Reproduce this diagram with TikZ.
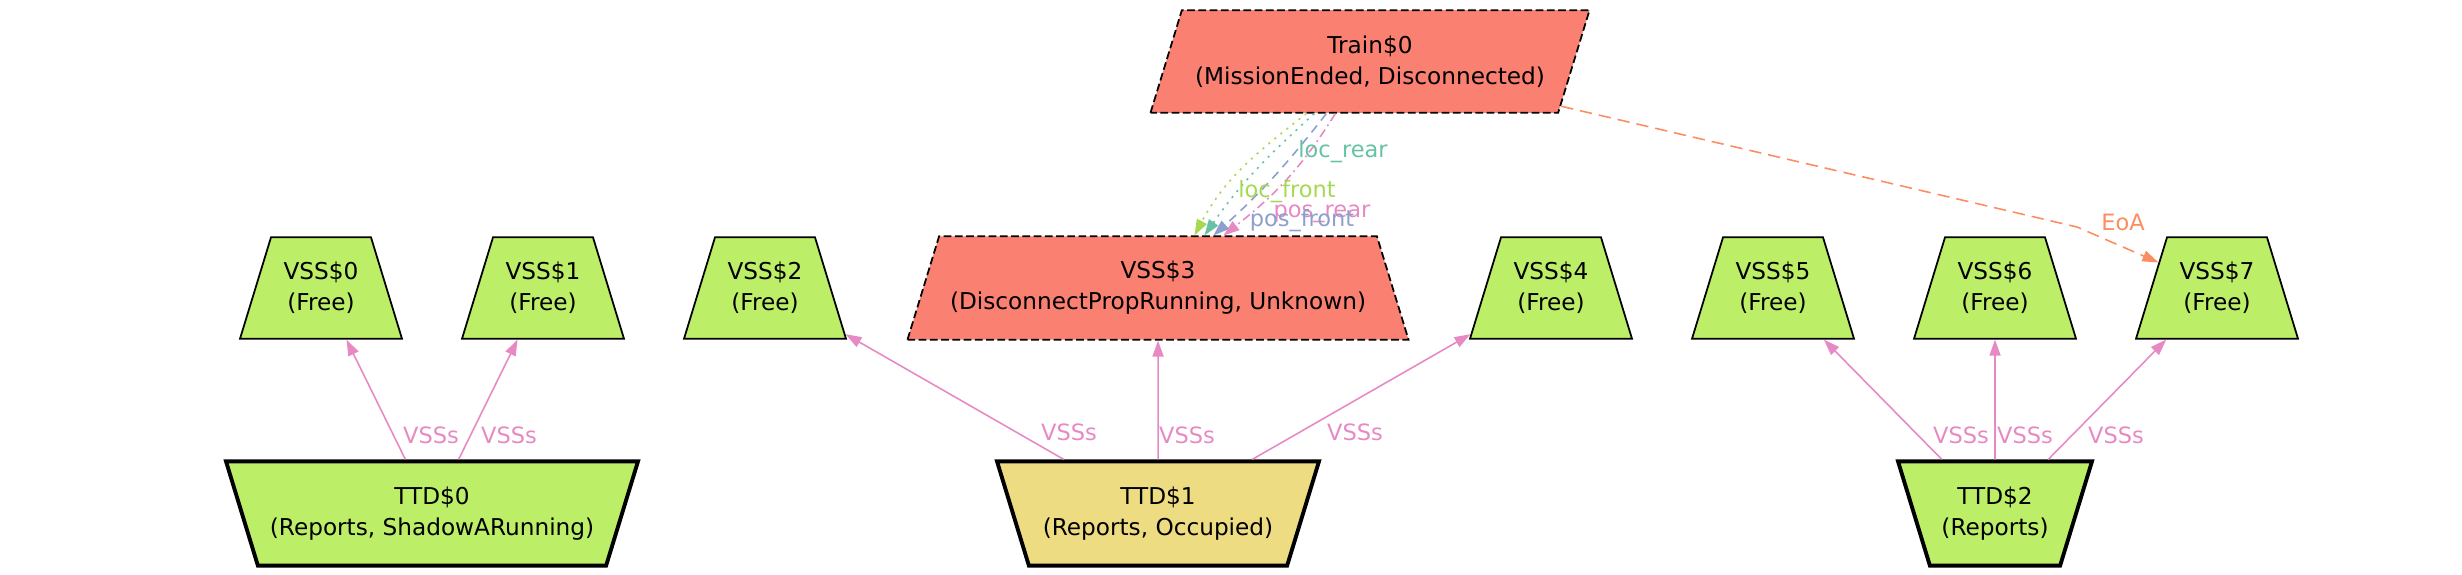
\documentclass[tikz,border=0pt]{standalone}
\usepackage{fontspec}
\setmainfont{DejaVu Sans}
\definecolor{stgreen}{RGB}{188,238,104}
\definecolor{stgold}{RGB}{238,220,130}
\definecolor{stsalmon}{RGB}{250,128,114}
\definecolor{edpink}{RGB}{231,138,195}
\definecolor{edteal}{RGB}{102,194,165}
\definecolor{edlime}{RGB}{166,216,84}
\definecolor{edblue}{RGB}{141,160,203}
\definecolor{edorange}{RGB}{252,141,98}
\usetikzlibrary{arrows.meta,positioning,shapes.geometric}
\tikzset{
  statebox/.style={trapezium, trapezium stretches body, trapezium left angle=73, trapezium right angle=73,
    draw, align=center, inner xsep=1pt, inner ysep=7.1pt, font=\fontsize{6.6}{8.8}\selectfont},
  vssbox/.style={statebox, line width=0.5pt, minimum width=1.62cm, fill=stgreen},
  ttdbox/.style={statebox, shape border rotate=180, line width=1.1pt, inner ysep=7.25pt},
  lost/.style={dash pattern=on 2.2pt off 1pt, fill=stsalmon},
  linkedge/.style={line width=0.45pt, -{Triangle[length=0.16cm,width=0.11cm]}},
  vssedge/.style={linkedge, edpink},
  edgelbl/.style={font=\fontsize{6.4}{7.5}\selectfont, inner sep=0pt},
}
\begin{document}
\begin{tikzpicture}
  \useasboundingbox (0,0) rectangle (24.62,5.75);
  % train on top
  \node[statebox, lost, trapezium right angle=107, minimum width=4.39cm, inner ysep=7.25pt, line width=0.5pt] (train0) at (13.70,5.135) {Train\$0\\(MissionEnded, Disconnected)};
  % VSS row
  \node[vssbox] (vss0) at (3.21,2.87) {VSS\$0\\(Free)};
  \node[vssbox] (vss1) at (5.43,2.87) {VSS\$1\\(Free)};
  \node[vssbox] (vss2) at (7.65,2.87) {VSS\$2\\(Free)};
  \node[vssbox, lost, minimum width=5.01cm] (vss3) at (11.58,2.87) {VSS\$3\\(DisconnectPropRunning, Unknown)};
  \node[vssbox] (vss4) at (15.51,2.87) {VSS\$4\\(Free)};
  \node[vssbox] (vss5) at (17.73,2.87) {VSS\$5\\(Free)};
  \node[vssbox] (vss6) at (19.95,2.87) {VSS\$6\\(Free)};
  \node[vssbox] (vss7) at (22.17,2.87) {VSS\$7\\(Free)};
  % TTD row
  \node[ttdbox, fill=stgreen, minimum width=4.12cm] (ttd0) at (4.32,0.615) {TTD\$0\\(Reports, ShadowARunning)};
  \node[ttdbox, fill=stgold, minimum width=3.22cm] (ttd1) at (11.58,0.615) {TTD\$1\\(Reports, Occupied)};
  \node[ttdbox, fill=stgreen, minimum width=1.94cm] (ttd2) at (19.95,0.615) {TTD\$2\\(Reports)};
  % TTD -> VSS
  \draw[vssedge] (ttd0) -- (vss0) node[edgelbl] at (4.31,1.40) {VSSs};
  \draw[vssedge] (ttd0) -- (vss1) node[edgelbl] at (5.09,1.40) {VSSs};
  \draw[vssedge] (ttd1) -- (vss2) node[edgelbl] at (10.69,1.43) {VSSs};
  \draw[vssedge] (ttd1) -- (vss3) node[edgelbl] at (11.87,1.40) {VSSs};
  \draw[vssedge] (ttd1) -- (vss4) node[edgelbl] at (13.55,1.43) {VSSs};
  \draw[vssedge] (ttd2) -- (vss5) node[edgelbl] at (19.61,1.40) {VSSs};
  \draw[vssedge] (ttd2) -- (vss6) node[edgelbl] at (20.25,1.40) {VSSs};
  \draw[vssedge] (ttd2) -- (vss7) node[edgelbl] at (21.16,1.40) {VSSs};
  % train -> VSS$3
  \draw[linkedge, edlime, dash pattern=on 0.6pt off 1.6pt] ([xshift=1.57cm]train0.bottom left corner) to[out=218,in=62] ([xshift=2.56cm]vss3.top left corner);
  \draw[linkedge, edteal, dash pattern=on 0.6pt off 1.6pt] ([xshift=1.65cm]train0.bottom left corner) to[out=222,in=55] ([xshift=2.66cm]vss3.top left corner);
  \draw[linkedge, edpink, dash pattern=on 2.5pt off 1.2pt on 0.5pt off 1.2pt] ([xshift=1.86cm]train0.bottom left corner) to[out=238,in=38] ([xshift=2.85cm]vss3.top left corner);
  \draw[linkedge, edblue, dash pattern=on 2.5pt off 1.8pt] ([xshift=1.77cm]train0.bottom left corner) to[out=232,in=42] ([xshift=2.75cm]vss3.top left corner);
  \node[edgelbl, text=edteal] (locrear) at (13.43,4.23) {loc\_rear};
  \node[edgelbl, text=edlime] (locfront) at (12.87,3.83) {loc\_front};
  \node[edgelbl, text=edpink] (posrear) at (13.22,3.61) {pos\_rear};
  \node[edgelbl, text=edblue] (posfront) at (13.02,3.54) {pos\_front};
  % end of authority
  \coordinate (eoabend) at (20.77,3.48);
  \draw[linkedge, edorange, dash pattern=on 3.5pt off 2pt] (train0) -- (eoabend) -- (vss7) node[edgelbl] at (21.23,3.53) {EoA};
\end{tikzpicture}
\end{document}
